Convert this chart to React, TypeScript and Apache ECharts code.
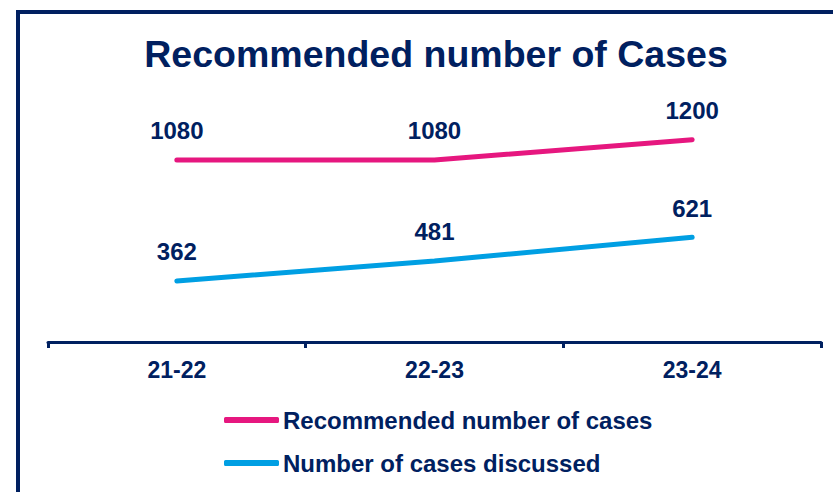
import React, { useEffect, useRef } from "react";
import * as echarts from "echarts";

const categories = ["21-22", "22-23", "23-24"];
const recommended = [1080, 1080, 1200];
const discussed = [362, 481, 621];
const seriesNames = ["Recommended number of cases", "Number of cases discussed"];
const titleText = "Recommended number of Cases";

const NAVY = "#002060";
const PINK = "#E6177F";
const BLUE = "#009FE3";
const FONT = "'Liberation Sans', Arial, sans-serif";

export default function App() {
  const ref = useRef<HTMLDivElement>(null);
  useEffect(() => {
    document.body.style.margin = "0";
    const chart = echarts.init(ref.current!, null, { renderer: "svg" });
    const labelStyle = {
      show: true,
      position: "top" as const,
      distance: 16,
      color: NAVY,
      fontSize: 24,
      fontWeight: "bold" as const,
      fontFamily: FONT,
    };
    chart.setOption({
      animation: false,
      backgroundColor: "#ffffff",
      textStyle: { fontFamily: FONT },
      title: {
        text: titleText,
        left: 431,
        top: 30,
        textAlign: "center",
        textStyle: { color: NAVY, fontSize: 37.5, fontWeight: "bold", fontFamily: FONT },
      },
      graphic: [
        {
          type: "rect",
          shape: { x: 18, y: 12, width: 1000, height: 700 },
          style: { fill: "none", stroke: NAVY, lineWidth: 4 },
          silent: true,
          z: 100,
        },
      ],
      legend: {
        orient: "vertical",
        left: 219,
        top: 403,
        itemWidth: 55,
        itemHeight: 6,
        itemGap: 19,
        icon: "roundRect",
        data: seriesNames,
        textStyle: { color: NAVY, fontSize: 24, fontWeight: "bold", fontFamily: FONT, padding: [0, 0, 0, -1] },
      },
      grid: { left: 48, right: 12, top: 106, bottom: 150, containLabel: false },
      xAxis: {
        type: "category",
        data: categories,
        boundaryGap: true,
        axisLine: { lineStyle: { color: NAVY, width: 3 } },
        axisTick: { show: true, length: 6, lineStyle: { color: NAVY, width: 3 } },
        axisLabel: { color: NAVY, fontSize: 23, fontWeight: "bold", fontFamily: FONT, margin: 16 },
        splitLine: { show: false },
      },
      yAxis: {
        type: "value",
        min: 0,
        max: 1400,
        show: false,
        splitLine: { show: false },
      },
      series: [
        {
          name: seriesNames[0],
          type: "line",
          data: recommended,
          symbol: "circle",
          symbolSize: 2,
          showSymbol: true,
          itemStyle: { color: PINK },
          lineStyle: { color: PINK, width: 5, cap: "round" },
          label: labelStyle,
        },
        {
          name: seriesNames[1],
          type: "line",
          data: discussed,
          symbol: "circle",
          symbolSize: 2,
          showSymbol: true,
          itemStyle: { color: BLUE },
          lineStyle: { color: BLUE, width: 5, cap: "round" },
          label: labelStyle,
        },
      ],
    });
    return () => chart.dispose();
  }, []);
  return <div ref={ref} style={{ width: 833, height: 492 }} />;
}
